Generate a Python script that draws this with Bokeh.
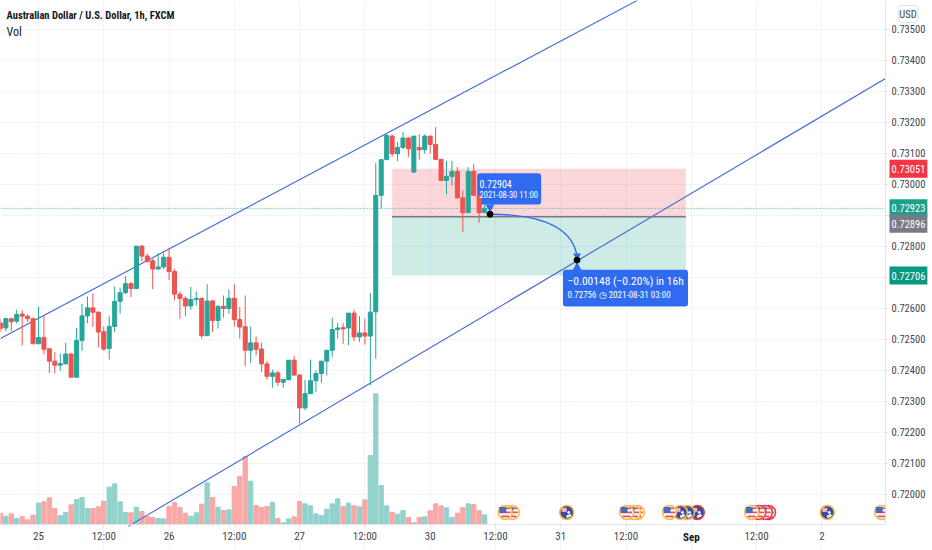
import numpy as np
from bokeh.plotting import figure
from bokeh.embed import file_html
from bokeh.resources import INLINE
from bokeh.models import Range1d, FixedTicker, Label, PrintfTickFormatter
from bokeh.core.properties import value

FONT = "Roboto Condensed"

first_bar = -7
opens = [0.72553,0.72537,0.72567,0.72559,0.72582,0.72575,0.72567,0.72486,0.72506,0.72470,0.72430,0.72417,0.72422,0.72453,0.72378,0.72497,0.72576,0.72602,0.72588,0.72525,0.72471,0.72542,0.72623,0.72651,0.72680,0.72664,0.72801,0.72769,0.72754,0.72727,0.72734,0.72765,0.72719,0.72646,0.72632,0.72608,0.72629,0.72632,0.72512,0.72624,0.72561,0.72607,0.72600,0.72633,0.72564,0.72541,0.72465,0.72489,0.72469,0.72421,0.72381,0.72392,0.72362,0.72370,0.72433,0.72385,0.72279,0.72325,0.72367,0.72390,0.72430,0.72465,0.72532,0.72538,0.72537,0.72585,0.72508,0.72521,0.72511,0.72589,0.72965,0.73080,0.73156,0.73099,0.73119,0.73150,0.73040,0.73119,0.73112,0.73156,0.73129,0.73081,0.73013,0.73026,0.73042,0.72957,0.72909,0.73042,0.72965,0.72909]
highs = [0.72567,0.72570,0.72567,0.72596,0.72594,0.72581,0.72570,0.72605,0.72575,0.72470,0.72459,0.72454,0.72489,0.72456,0.72538,0.72615,0.72639,0.72648,0.72590,0.72542,0.72575,0.72671,0.72667,0.72704,0.72685,0.72801,0.72804,0.72777,0.72761,0.72779,0.72779,0.72796,0.72728,0.72655,0.72639,0.72669,0.72655,0.72637,0.72678,0.72628,0.72610,0.72642,0.72661,0.72678,0.72605,0.72642,0.72542,0.72510,0.72489,0.72431,0.72403,0.72398,0.72371,0.72433,0.72446,0.72388,0.72370,0.72435,0.72400,0.72430,0.72467,0.72570,0.72554,0.72553,0.72585,0.72596,0.72575,0.72567,0.72650,0.73069,0.73080,0.73164,0.73162,0.73137,0.73169,0.73153,0.73156,0.73162,0.73162,0.73156,0.73185,0.73083,0.73076,0.73076,0.73056,0.72981,0.73056,0.73067,0.72965,0.72936]
lows = [0.72524,0.72527,0.72527,0.72551,0.72481,0.72556,0.72486,0.72486,0.72452,0.72392,0.72390,0.72398,0.72417,0.72378,0.72378,0.72463,0.72553,0.72540,0.72474,0.72463,0.72435,0.72524,0.72583,0.72646,0.72637,0.72664,0.72752,0.72748,0.72662,0.72727,0.72727,0.72691,0.72626,0.72567,0.72575,0.72596,0.72610,0.72503,0.72512,0.72524,0.72535,0.72570,0.72583,0.72542,0.72503,0.72413,0.72424,0.72449,0.72395,0.72371,0.72344,0.72350,0.72344,0.72368,0.72385,0.72228,0.72271,0.72325,0.72331,0.72360,0.72384,0.72444,0.72503,0.72486,0.72481,0.72495,0.72492,0.72483,0.72352,0.72438,0.72922,0.73080,0.73089,0.73076,0.73115,0.73089,0.73037,0.73080,0.73099,0.73099,0.73078,0.73013,0.72968,0.72997,0.72954,0.72847,0.72909,0.72965,0.72876,0.72909]
closes = [0.72535,0.72567,0.72557,0.72581,0.72575,0.72567,0.72486,0.72506,0.72468,0.72430,0.72417,0.72422,0.72453,0.72378,0.72497,0.72576,0.72602,0.72588,0.72524,0.72469,0.72542,0.72623,0.72651,0.72680,0.72664,0.72801,0.72769,0.72752,0.72727,0.72734,0.72765,0.72719,0.72646,0.72632,0.72608,0.72629,0.72632,0.72512,0.72624,0.72561,0.72607,0.72600,0.72633,0.72564,0.72540,0.72465,0.72489,0.72468,0.72421,0.72381,0.72392,0.72362,0.72371,0.72433,0.72385,0.72279,0.72325,0.72367,0.72390,0.72430,0.72465,0.72532,0.72537,0.72534,0.72585,0.72508,0.72521,0.72511,0.72588,0.72965,0.73080,0.73158,0.73099,0.73119,0.73150,0.73115,0.73156,0.73112,0.73156,0.73129,0.73081,0.73013,0.73026,0.73042,0.72957,0.72909,0.73042,0.72965,0.72909,0.72923]
volumes = [34,25,32,18,24,14,28,64,68,80,48,27,36,59,75,81,48,48,53,70,112,122,68,36,35,52,39,24,21,18,17,54,66,51,34,25,35,61,125,81,52,42,44,114,144,204,130,57,51,54,67,18,5,17,23,69,62,56,32,27,46,62,77,54,64,56,53,74,207,392,117,56,36,31,42,21,5,21,23,41,62,56,50,21,34,51,62,60,41,29]

x_tick_bars = [0,12,24,36,48,60,72,84,96,108,120,132,144]
x_tick_labels = ["25","12:00","26","12:00","27","12:00","30","12:00","31","12:00","","12:00","2"]
y_ticks = [0.720,0.721,0.722,0.723,0.724,0.725,0.726,0.727,0.728,0.729,0.730,0.731,0.732,0.733,0.734,0.735]

upper_channel_x, upper_channel_y = [-7.0, 110.1], [0.72503, 0.73594]
lower_channel_x, lower_channel_y = [16.5, 155.7], [0.71897, 0.73342]

entry_price, stop_price, target_price = 0.72896, 0.73051, 0.72706
last_price = 0.72923
position_start, position_end = 65, 119
from_bar, from_price = 83, 0.72904
to_bar, to_price = 99, 0.72756

event_level = 0.71942
us_events = [85.8, 87.1, 108.1, 109.4, 110.1, 116, 131.1, 132.4, 133.6, 134.2, 155]
us_rings = ["o","o","o","o","o","o","o","r","r","r","o"]
au_events = [97.1, 118, 119.3, 121.1, 145]
au_rings = ["o","o","o","r","o"]

UP, DOWN = "#26a69a", "#ef5350"
UP_V, DOWN_V = "#92d2cb", "#f7a8a7"
BLUE = "#2f6bef"
LINE = "#3f66d6"
TXT = "#434651"

n = len(opens)
bars = np.arange(first_bar, first_bar + n)
o, h, l, c = map(np.array, (opens, highs, lows, closes))
up = c >= o
col = [UP if u else DOWN for u in up]
vcol = [UP_V if u else DOWN_V for u in up]
PX_X = 1 / 5.44
PX_Y = 1 / 31000
# the plot area fills the whole picture; the axes sit at AX_X and AX_Y inside it
X0, X1 = -6.985, 164.34
Y0, Y1 = 0.718191, 0.735935
AX_X, AX_Y = 155.7, 0.71903

p = figure(width=932, height=550, output_backend="svg", toolbar_location=None,
           x_range=Range1d(X0, X1), y_range=Range1d(Y0, Y1),
           x_axis_location="below", y_axis_location="right",
           min_border_left=0, min_border_top=0, min_border_right=0, min_border_bottom=0,
           background_fill_color="white", border_fill_color="white")
p.outline_line_color = None
p.extra_y_ranges = {"vol": Range1d(-78, 1572)}

p.xaxis.ticker = FixedTicker(ticks=x_tick_bars)
p.xaxis.major_label_overrides = dict(zip(x_tick_bars, x_tick_labels))
p.yaxis.ticker = FixedTicker(ticks=y_ticks)
p.yaxis.formatter = PrintfTickFormatter(format="%.5f")
p.xaxis[0].fixed_location = AX_Y
p.yaxis[0].fixed_location = AX_X
p.xaxis[0].bounds = (X0, AX_X)
p.yaxis[0].bounds = (AX_Y, Y1)
for ax in (p.xaxis[0], p.yaxis[0]):
    ax.axis_line_color = "#e0e3eb"
    ax.major_tick_line_color = "#e0e3eb"
    ax.major_tick_out = 3
    ax.major_tick_in = 0
    ax.minor_tick_line_color = None
    ax.major_label_text_font = FONT
    ax.major_label_text_font_size = "10.5px"
    ax.major_label_text_color = TXT
    ax.major_label_standoff = 3
p.xaxis[0].major_label_text_font_size = "11px"
p.xgrid.ticker = FixedTicker(ticks=x_tick_bars)
p.ygrid.ticker = FixedTicker(ticks=y_ticks)
p.xgrid.bounds = (AX_Y, Y1)
p.ygrid.bounds = (X0, AX_X)
p.xgrid.grid_line_color = "#f0f3fa"
p.ygrid.grid_line_color = "#f0f3fa"

# position regions
p.quad(left=[position_start], right=[position_end], bottom=[entry_price], top=[stop_price],
       fill_color="#f23645", fill_alpha=0.2, line_color=None)
p.quad(left=[position_start], right=[position_end], bottom=[target_price], top=[entry_price],
       fill_color="#089981", fill_alpha=0.2, line_color=None)

# volume
p.vbar(x=bars, top=volumes, bottom=0, width=0.8, color=vcol, y_range_name="vol")

# channels
p.line(upper_channel_x, upper_channel_y, color=LINE, line_width=1.1)
p.line(lower_channel_x, lower_channel_y, color=LINE, line_width=1.1)

p.line([position_start, position_end], [entry_price, entry_price], color="#787b86", line_width=1.5)
p.line([X0, AX_X], [last_price, last_price], color=UP, line_width=1, line_dash="1 2")

# callout boxes under the candles
p.quad(left=[from_bar - 2.36], right=[from_bar + 9.4],
       top=[from_price + 0.00132], bottom=[from_price + 0.00031],
       fill_color=BLUE, line_color=None, border_radius=3)
p.scatter(x=[from_bar], y=[from_price + 0.00023], marker="inverted_triangle", size=9,
          fill_color=BLUE, line_color=None)
p.quad(left=[to_bar - 2.6], right=[to_bar + 20.4],
       top=[to_price - 0.00031], bottom=[to_price - 0.0015],
       fill_color=BLUE, line_color=None, border_radius=3)
p.scatter(x=[to_bar], y=[to_price - 0.00024], marker="triangle", size=9,
          fill_color=BLUE, line_color=None)

# candles
p.segment(x0=bars, x1=bars, y0=l, y1=h, color=col, line_width=1)
p.vbar(x=bars, top=np.maximum(o, c), bottom=np.minimum(o, c), width=0.74, color=col)

# projection curve
p.quadratic(x0=[from_bar], y0=[from_price], x1=[to_bar], y1=[to_price + 0.00012],
            cx=[to_bar - 1.2], cy=[from_price - 0.00001], line_color=BLUE, line_width=1.4)
p.scatter(x=[to_bar], y=[to_price + 0.00014], marker="inverted_triangle", size=8,
          fill_color=BLUE, line_color=None)
p.scatter(x=[from_bar, to_bar], y=[from_price, to_price], size=6, color="black")

# callout texts
def txt(x, y, s, size):
    p.text(x=[x], y=[y], text=[s], text_font=value(FONT), text_font_size=size, text_color="white",
           text_baseline="middle", text_align="left")

txt(from_bar - 1.93, from_price + 0.00099, "0.72904", "10px")
txt(from_bar - 1.93, from_price + 0.00061, "2021-08-30 11:00", "8.5px")
txt(to_bar - 1.76, to_price - 0.00066, "\u22120.00148 (\u22120.20%) in 16h", "11.5px")
txt(to_bar - 1.76, to_price - 0.00114, "0.72756 \u25f7 2021-08-31  03:00", "9px")

# event icons (left one on top)
def us_icon(x, ring):
    p.scatter(x=[x], y=[event_level], size=14, fill_color="white",
              line_color="#f7b94a" if ring == "o" else "#e8394a", line_width=1.5)
    for dy, w, cx in ((-4, 6, 1.5), (0, 11, 0), (4, 8, 0)):
        p.rect(x=[x + cx * PX_X], y=[event_level - dy * PX_Y], width=w, height=1.8,
               width_units="screen", height_units="screen", fill_color="#e5535a", line_color=None)
    p.rect(x=[x - 2.5 * PX_X], y=[event_level + 2.5 * PX_Y], width=7, height=6,
           width_units="screen", height_units="screen", fill_color="#4a6cb8", line_color=None)

def au_icon(x, ring):
    p.scatter(x=[x], y=[event_level], size=14, fill_color="#3a4ea0",
              line_color="#f7b94a" if ring == "o" else "#e8394a", line_width=1.5)
    p.rect(x=[x - 2.5 * PX_X], y=[event_level + 2.5 * PX_Y], width=5, height=4,
           width_units="screen", height_units="screen", fill_color="#f2b6bc", line_color=None)
    p.scatter(x=[x + 2 * PX_X, x + 3 * PX_X, x + 1 * PX_X], y=[event_level, event_level - 3 * PX_Y, event_level - 4 * PX_Y],
              size=2, color="white")

events = sorted([(x, r, us_icon) for x, r in zip(us_events, us_rings)] +
                [(x, r, au_icon) for x, r in zip(au_events, au_rings)], key=lambda t: -t[0])
for x, r, fn in events:
    fn(x, r)

# the price scale column hides whatever runs past the axis
p.quad(left=[AX_X], right=[X1], bottom=[Y0], top=[Y1], fill_color="white", line_color=None)

# overlay labels (screen units count from the lower left corner)
def lab(**kw):
    p.add_layout(Label(text_font=FONT, **kw))

lab(x=6, y=535, x_units="screen", y_units="screen", text="Australian Dollar / U.S. Dollar, 1h, FXCM",
    text_font_size="10.5px", text_font_style="bold", text_color="#131722", text_baseline="middle")
lab(x=6, y=519, x_units="screen", y_units="screen", text="Vol",
    text_font_size="12px", text_color="#131722", text_baseline="middle")
lab(x=120, y=13, x_units="data", y_units="screen", text="Sep", text_font_size="11px", text_font_style="bold",
    text_color="#131722", text_baseline="middle", text_align="center")
lab(x=907.5, y=536.5, x_units="screen", y_units="screen", text="USD", text_font_size="10.5px",
    text_color=TXT, text_baseline="middle", text_align="center",
    border_line_color="#e0e3eb", border_radius=3, padding=(1, 2), background_fill_color="white")

# the entry label is pushed down so it stays clear of the last-price label
for price, color, s in ((stop_price, "#f23645", "0.73051"), (last_price, "#1ba08c", "0.72923"),
                        (entry_price - 7 * PX_Y, "#787b86", "0.72896"), (target_price, "#089981", "0.72706")):
    lab(x=889, y=price, x_units="screen", y_units="data", text=s, text_font_size="10.5px", text_color="white",
        text_baseline="middle", text_align="left", background_fill_color=color, padding=(2, 5))

open("out.html", "w").write(file_html(p, INLINE))
